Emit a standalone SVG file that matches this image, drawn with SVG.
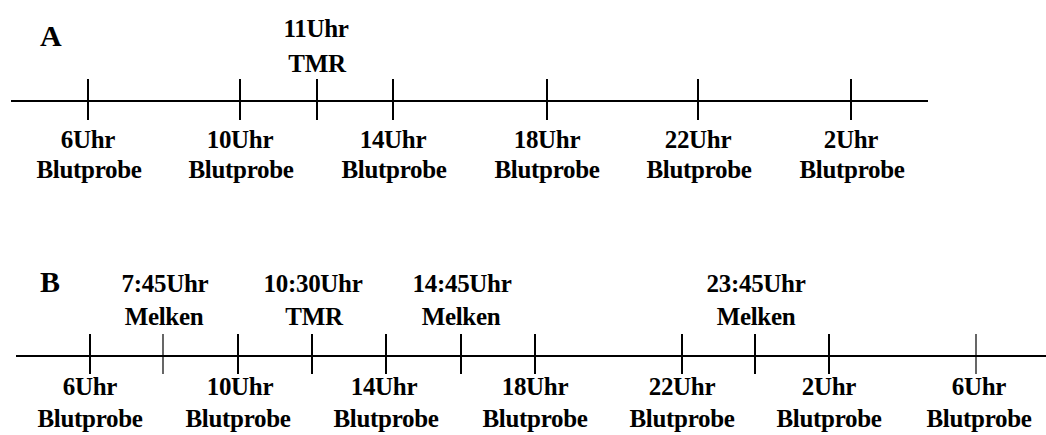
<svg xmlns="http://www.w3.org/2000/svg" width="1046" height="435" viewBox="0 0 1046 435">
<style>
text{font-family:"Liberation Serif","Times New Roman",serif;font-weight:bold;font-size:25px;fill:#000;text-anchor:middle;letter-spacing:-0.3px}
.big{font-size:30px;text-anchor:start}
.ax{stroke:#000;stroke-width:2.2;fill:none}
.tk{stroke:#000;stroke-width:2;fill:none}
.tt{stroke:#000;stroke-width:1.2;fill:none}
</style>
<rect width="1046" height="435" fill="#fff"/>
<g id="connectors">
<line class="ax" x1="11" y1="101" x2="928" y2="101"/>
<line class="tk" x1="88" y1="79" x2="88" y2="120"/>
<line class="tk" x1="240" y1="79" x2="240" y2="120"/>
<line class="tk" x1="317" y1="79" x2="317" y2="120"/>
<line class="tk" x1="393" y1="79" x2="393" y2="120"/>
<line class="tk" x1="547" y1="79" x2="547" y2="120"/>
<line class="tk" x1="698" y1="79" x2="698" y2="120"/>
<line class="tk" x1="851" y1="79" x2="851" y2="120"/>
<line class="ax" x1="16" y1="356" x2="1046" y2="356"/>
<line class="tk" x1="90" y1="334" x2="90" y2="374"/>
<line class="tt" x1="163" y1="334" x2="163" y2="374"/>
<line class="tk" x1="238" y1="334" x2="238" y2="374"/>
<line class="tk" x1="312" y1="334" x2="312" y2="374"/>
<line class="tk" x1="386" y1="334" x2="386" y2="374"/>
<line class="tk" x1="461" y1="334" x2="461" y2="374"/>
<line class="tk" x1="535" y1="334" x2="535" y2="374"/>
<line class="tk" x1="682" y1="334" x2="682" y2="374"/>
<line class="tk" x1="755" y1="334" x2="755" y2="374"/>
<line class="tk" x1="829" y1="334" x2="829" y2="374"/>
<line class="tt" x1="976" y1="334" x2="976" y2="374"/>
</g>
<g id="label-A"><text class="big" x="40" y="46">A</text></g>
<g id="a-11"><text x="316" y="37">11Uhr</text><text x="317" y="72">TMR</text></g>
<g id="a-6"><text x="88" y="148">6Uhr</text><text x="89" y="178">Blutprobe</text></g>
<g id="a-10"><text x="240" y="148">10Uhr</text><text x="241" y="178">Blutprobe</text></g>
<g id="a-14"><text x="393" y="148">14Uhr</text><text x="394" y="178">Blutprobe</text></g>
<g id="a-18"><text x="547" y="148">18Uhr</text><text x="547" y="178">Blutprobe</text></g>
<g id="a-22"><text x="698" y="148">22Uhr</text><text x="699" y="178">Blutprobe</text></g>
<g id="a-2"><text x="851" y="148">2Uhr</text><text x="852" y="178">Blutprobe</text></g>
<g id="label-B"><text class="big" x="40" y="292">B</text></g>
<g id="b-745"><text x="165" y="292">7:45Uhr</text><text x="164" y="325">Melken</text></g>
<g id="b-1030"><text x="313" y="292">10:30Uhr</text><text x="314" y="325">TMR</text></g>
<g id="b-1445"><text x="462" y="292">14:45Uhr</text><text x="461" y="325">Melken</text></g>
<g id="b-2345"><text x="756" y="292">23:45Uhr</text><text x="756" y="325">Melken</text></g>
<g id="b-6"><text x="90" y="395">6Uhr</text><text x="90" y="427">Blutprobe</text></g>
<g id="b-10"><text x="240" y="395">10Uhr</text><text x="238" y="427">Blutprobe</text></g>
<g id="b-14"><text x="384" y="395">14Uhr</text><text x="386" y="427">Blutprobe</text></g>
<g id="b-18"><text x="535" y="395">18Uhr</text><text x="535" y="427">Blutprobe</text></g>
<g id="b-22"><text x="682" y="395">22Uhr</text><text x="682" y="427">Blutprobe</text></g>
<g id="b-2"><text x="829" y="395">2Uhr</text><text x="829" y="427">Blutprobe</text></g>
<g id="b-6n"><text x="979" y="395">6Uhr</text><text x="979" y="427">Blutprobe</text></g>
</svg>
